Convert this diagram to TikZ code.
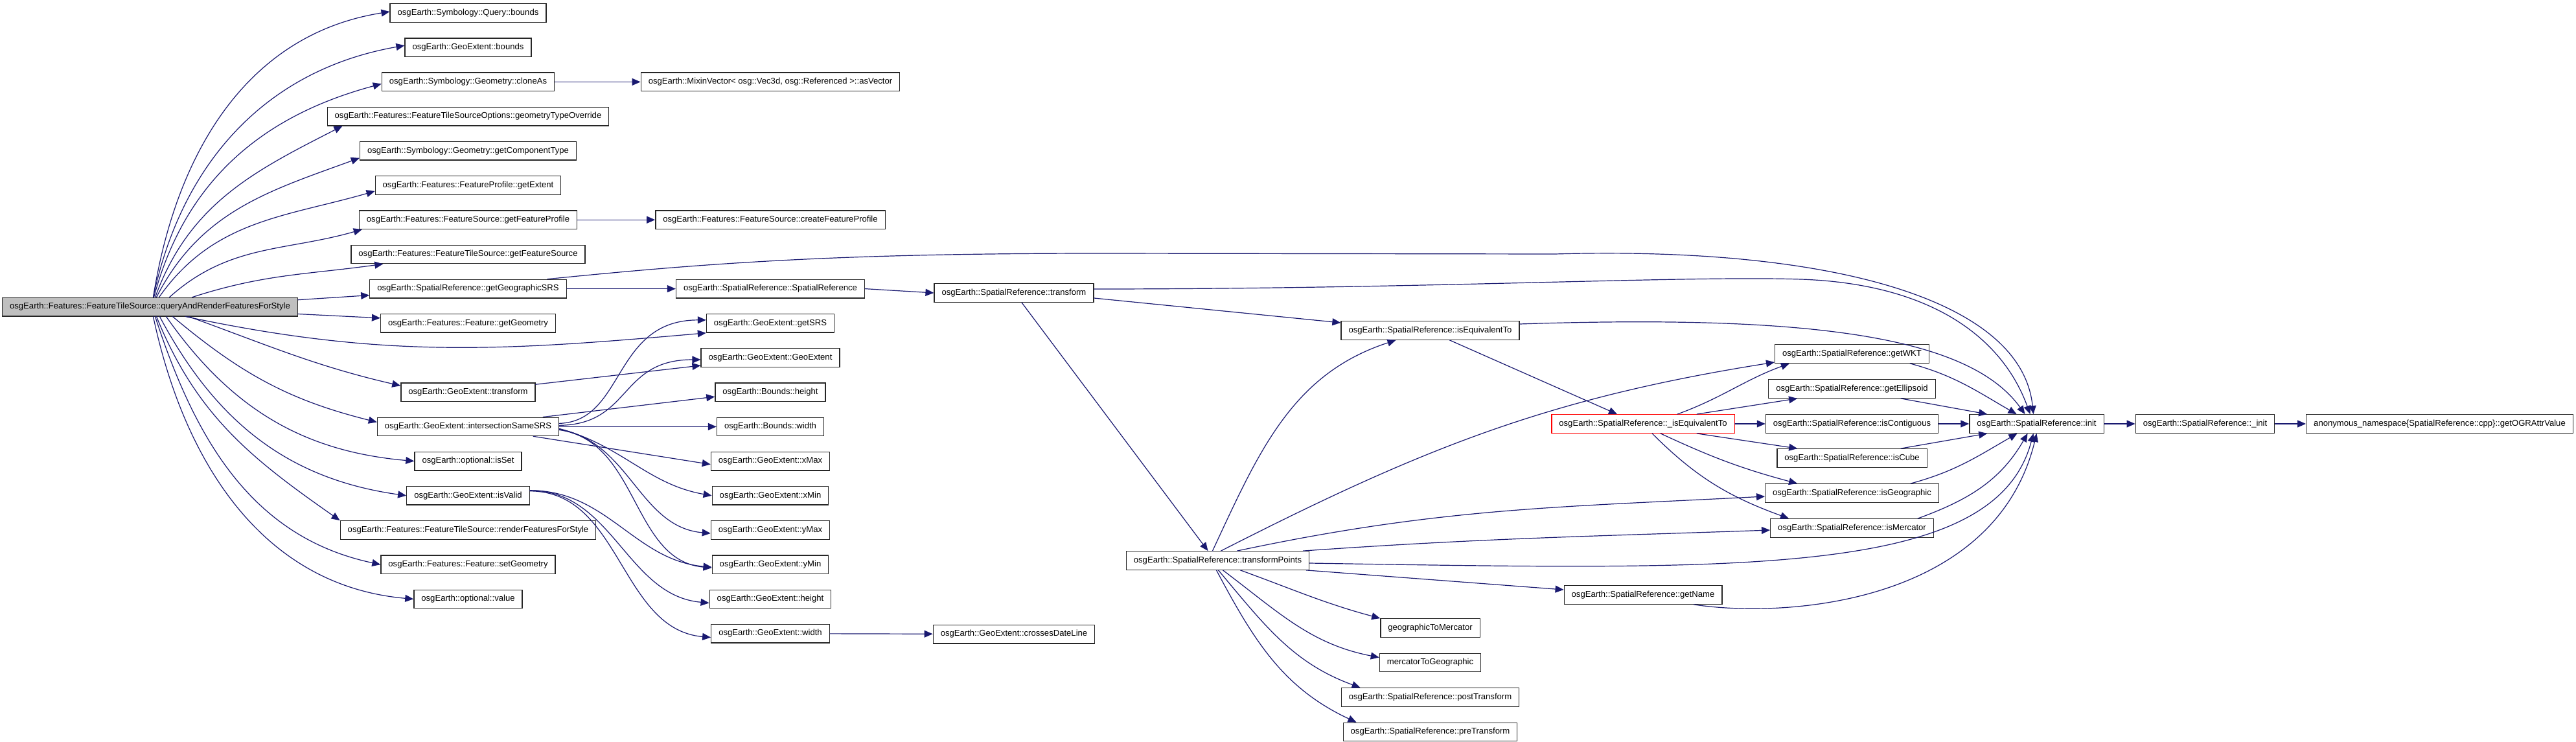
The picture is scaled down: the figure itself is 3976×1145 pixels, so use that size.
\documentclass[tikz,border=0pt]{standalone}
\usepackage{fontspec}
\setmainfont{Liberation Sans}
\usetikzlibrary{arrows.meta}
\definecolor{edgeblue}{HTML}{191970}
\definecolor{rootgray}{HTML}{BFBFBF}
\definecolor{cutred}{HTML}{FF0000}

\begin{document}
\begin{tikzpicture}[x=1pt, y=1pt, >={Triangle[length=13pt,width=11pt]}, line cap=round,
  func/.style={draw=black!85, line width=1.3pt, fill=white, minimum height=28.5pt,
    inner xsep=11.5pt, inner ysep=0pt, font=\fontsize{13.1}{15}\selectfont},
  link/.style={->, draw=edgeblue, line width=1.2pt}]
\useasboundingbox (0,0) rectangle (3976,-1145);
% aufrufende Funktion
\node[func, fill=rootgray] (root) at (231.5,-473.6) {osgEarth::Features::FeatureTileSource::queryAndRenderFeaturesForStyle};
% erste Ebene
\foreach \nm/\k/\txt in {qbounds/0/osgEarth::Symbology::Query::bounds,
    gebounds/1/osgEarth::GeoExtent::bounds,
    cloneas/2/osgEarth::Symbology::Geometry::cloneAs,
    gtoverride/3/osgEarth::Features::FeatureTileSourceOptions::geometryTypeOverride,
    comptype/4/osgEarth::Symbology::Geometry::getComponentType,
    getextent/5/osgEarth::Features::FeatureProfile::getExtent,
    getfprofile/6/osgEarth::Features::FeatureSource::getFeatureProfile,
    getfsource/7/osgEarth::Features::FeatureTileSource::getFeatureSource,
    geosrs/8/osgEarth::SpatialReference::getGeographicSRS,
    getgeom/9/osgEarth::Features::Feature::getGeometry,
    getransform/11/osgEarth::GeoExtent::transform,
    intersect/12/osgEarth::GeoExtent::intersectionSameSRS,
    isset/13/osgEarth::optional::isSet,
    isvalid/14/osgEarth::GeoExtent::isValid,
    renderfs/15/osgEarth::Features::FeatureTileSource::renderFeaturesForStyle,
    setgeom/16/osgEarth::Features::Feature::setGeometry,
    optvalue/17/osgEarth::optional::value} {
  \node[func] (\nm) at (722.5,{-20-53.2*\k}) {\txt};
}
% zweite Ebene
\node[func] (asvector) at (1189,-126.4) {osgEarth::MixinVector< osg::Vec3d, osg::Referenced >::asVector};
\foreach \nm/\k/\txt in {createfp/6/osgEarth::Features::FeatureSource::createFeatureProfile,
    srctor/8/osgEarth::SpatialReference::SpatialReference,
    getsrs/9/osgEarth::GeoExtent::getSRS,
    gector/10/osgEarth::GeoExtent::GeoExtent,
    bheight/11/osgEarth::Bounds::height,
    bwidth/12/osgEarth::Bounds::width,
    xmax/13/osgEarth::GeoExtent::xMax,
    xmin/14/osgEarth::GeoExtent::xMin,
    ymax/15/osgEarth::GeoExtent::yMax,
    ymin/16/osgEarth::GeoExtent::yMin,
    geheight/17/osgEarth::GeoExtent::height,
    gewidth/18/osgEarth::GeoExtent::width} {
  \node[func] (\nm) at (1189,{-20-53.2*\k}) {\txt};
}
% SpatialReference
\node[func] (srtransform) at (1565,-452) {osgEarth::SpatialReference::transform};
\node[func] (crossdl) at (1565,-978.6) {osgEarth::GeoExtent::crossesDateLine};
\node[func] (transformpts) at (1879.5,-865) {osgEarth::SpatialReference::transformPoints};
\node[func] (isequiv) at (2207.5,-510) {osgEarth::SpatialReference::isEquivalentTo};
\node[func] (geo2merc) at (2207.5,-969) {geographicToMercator};
\node[func] (merc2geo) at (2207.5,-1022.5) {mercatorToGeographic};
\node[func] (posttf) at (2207.5,-1076) {osgEarth::SpatialReference::postTransform};
\node[func] (pretf) at (2207.5,-1129.5) {osgEarth::SpatialReference::preTransform};
\node[func, draw=cutred] (uisequiv) at (2536,-654) {osgEarth::SpatialReference::\_isEquivalentTo};
\node[func] (getname) at (2536,-918) {osgEarth::SpatialReference::getName};
\node[func] (getwkt) at (2858.5,-546) {osgEarth::SpatialReference::getWKT};
\node[func] (getellip) at (2858.5,-600) {osgEarth::SpatialReference::getEllipsoid};
\node[func] (iscontig) at (2858.5,-654) {osgEarth::SpatialReference::isContiguous};
\node[func] (iscube) at (2858.5,-707) {osgEarth::SpatialReference::isCube};
\node[func] (isgeog) at (2858.5,-761) {osgEarth::SpatialReference::isGeographic};
\node[func] (ismerc) at (2858.5,-815) {osgEarth::SpatialReference::isMercator};
\node[func] (init) at (3143.5,-654) {osgEarth::SpatialReference::init};
\node[func] (uinit) at (3403.5,-654) {osgEarth::SpatialReference::\_init};
\node[func] (ograttr) at (3765.5,-654) {anonymous\_namespace\{SpatialReference::cpp\}::getOGRAttrValue};
% Aufrufe von root nach oben
\draw[link] ([xshift=5]root.north) to[out=81,in=189] ([yshift=2]qbounds.west);
\draw[link] ([xshift=5]root.north) to[out=78,in=190] ([yshift=3]gebounds.west);
\draw[link] ([xshift=6]root.north) to[out=75,in=195] ([yshift=-3]cloneas.west);
\draw[link] ([xshift=8]root.north) to[out=70,in=207] ([xshift=24]gtoverride.south west);
\draw[link] ([xshift=10]root.north) to[out=63,in=200] ([yshift=-11]comptype.west);
\draw[link] ([xshift=14]root.north) to[out=55,in=196] ([yshift=-9]getextent.west);
\draw[link] ([xshift=30]root.north) to[out=42,in=196] ([xshift=5]getfprofile.south west);
\draw[link] ([xshift=65]root.north) to[out=18,in=188] ([xshift=50]getfsource.south west);
\draw[link] ([yshift=-4]root.north east) -- ([yshift=-10]geosrs.west);
\draw[link] ([yshift=4]root.south east) -- ([yshift=8]getgeom.west);
% Aufrufe von root nach unten
\draw[link] ([xshift=55]root.south) to[out=-12,in=185] ([yshift=-15]getsrs.west);
\draw[link] ([xshift=60]root.south) to[out=-20,in=167] ([yshift=10]getransform.west);
\draw[link] ([xshift=35]root.south) to[out=-40,in=166] ([yshift=7]intersect.west);
\draw[link] ([xshift=25]root.south) to[out=-55,in=175] (isset.west);
\draw[link] ([xshift=15]root.south) to[out=-62,in=172] (isvalid.west);
\draw[link] ([xshift=10]root.south) to[out=-68,in=145] (renderfs.north west);
\draw[link] ([xshift=8]root.south) to[out=-72,in=168] (setgeom.west);
\draw[link] ([xshift=5]root.south) to[out=-78,in=175] (optvalue.west);
% zweite Ebene
\draw[link] (cloneas) -- (asvector);
\draw[link] (getfprofile) -- (createfp);
\draw[link] (geosrs) -- (srctor);
\draw[link] ([xshift=-30]geosrs.north east) .. controls (1100,-405) and (1300,-391) .. (1700,-391)
  -- (2400,-392) .. controls (2820,-380) and (3120,-460) .. ([xshift=-5]init.north);
\draw[link] ([yshift=12]getransform.east) -- ([yshift=-12]gector.west);
\draw[link] ([yshift=5]intersect.east) .. controls (965,-650) and (945,-494) .. ([yshift=5]getsrs.west);
\draw[link] ([yshift=2]intersect.east) .. controls (975,-655) and (955,-555) .. ([yshift=-3]gector.west);
\draw[link] ([xshift=-25]intersect.north east) -- ([yshift=-7]bheight.west);
\draw[link] (intersect.east) -- (bwidth.west);
\draw[link] ([xshift=-40]intersect.south east) -- ([yshift=-5]xmax.west);
\draw[link] ([yshift=-3]intersect.east) to[out=-15,in=170] (xmin.west);
\draw[link] ([yshift=-4]intersect.east) to[out=-10,in=175] ([yshift=-5]ymax.west);
\draw[link] ([yshift=-5]intersect.east) to[out=-8,in=175] ([yshift=-5]ymin.west);
\draw[link] ([yshift=8]isvalid.east) to[out=0,in=175] ([yshift=-4]ymin.west);
\draw[link] ([yshift=8]isvalid.east) to[out=0,in=175] ([yshift=-6]geheight.west);
\draw[link] ([yshift=7]isvalid.east) to[out=0,in=175] ([yshift=-6]gewidth.west);
\draw[link] (gewidth) -- (crossdl);
% SpatialReference::transform
\draw[link] (srctor.east) -- (srtransform.west);
\draw[link] ([yshift=6]srtransform.east) .. controls (2200,-446) and (2600,-425) .. (2780,-431)
  .. controls (2980,-438) and (3090,-520) .. ([xshift=-10]init.north);
\draw[link] ([yshift=-8]srtransform.east) -- ([yshift=12]isequiv.west);
\draw[link] ([xshift=12]srtransform.south) -- ([xshift=-15]transformpts.north);
% transformPoints
\draw[link] ([xshift=-8]transformpts.north) to[out=65,in=198] ([xshift=-53]isequiv.south);
\draw[link] ([xshift=5]transformpts.north) to[out=27,in=189] ([yshift=-13]getwkt.west);
\draw[link] ([xshift=30]transformpts.north) to[out=12,in=183] ([yshift=-5]isgeog.west);
\draw[link] ([xshift=-10]transformpts.north east) to[out=4,in=182] ([yshift=-3]ismerc.west);
\draw[link] ([yshift=-4]transformpts.east) .. controls (2700,-880) and (3080,-890) .. ([xshift=-5]init.south);
\draw[link] ([xshift=-5]transformpts.south east) -- ([yshift=8]getname.west);
\draw[link] ([xshift=35]transformpts.south) to[out=-20,in=165] (geo2merc.north west);
\draw[link] ([xshift=8]transformpts.south) to[out=-37,in=169] ([yshift=8]merc2geo.west);
\draw[link] ([xshift=1]transformpts.south) to[out=-50,in=160] ([xshift=30]posttf.north west);
\draw[link] ([xshift=-2]transformpts.south) to[out=-62,in=155] ([xshift=21]pretf.north west);
% isEquivalentTo
\draw[link] ([yshift=10]isequiv.east) .. controls (2800,-485) and (3040,-520) .. ([xshift=-18]init.north);
\draw[link] ([xshift=30]isequiv.south) -- ([xshift=-40]uisequiv.north);
\draw[link] ([xshift=53]uisequiv.north) to[out=20,in=200] ([xshift=23]getwkt.south west);
\draw[link] ([xshift=83]uisequiv.north) -- ([xshift=45]getellip.south west);
\draw[link] (uisequiv) -- (iscontig);
\draw[link] ([xshift=83]uisequiv.south) -- ([xshift=32]iscube.north west);
\draw[link] ([xshift=27]uisequiv.south) to[out=-25,in=165] ([xshift=50]isgeog.north west);
\draw[link] ([xshift=14]uisequiv.south) to[out=-45,in=160] ([xshift=29]ismerc.north west);
% nach init
\draw[link] ([xshift=-30]getwkt.south east) to[out=-15,in=150] ([xshift=-31]init.north);
\draw[link] ([xshift=-54]getellip.south east) -- ([xshift=28]init.north west);
\draw[link] (iscontig) -- (init);
\draw[link] ([xshift=-41]iscube.north east) -- ([xshift=28]init.south west);
\draw[link] ([xshift=-44]isgeog.north east) to[out=15,in=-150] ([xshift=-30]init.south);
\draw[link] ([xshift=-25]ismerc.north east) to[out=20,in=-120] ([xshift=-14]init.south);
\draw[link] ([xshift=-44]getname.south east) .. controls (2760,-955) and (3080,-930) .. (init.south);
\draw[link] (init) -- (uinit);
\draw[link] (uinit) -- (ograttr);
\end{tikzpicture}
\end{document}
